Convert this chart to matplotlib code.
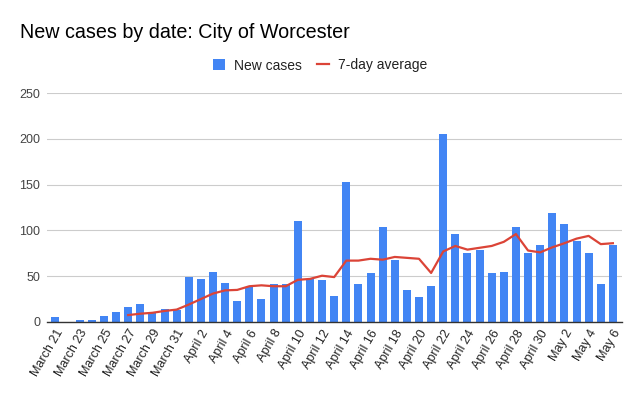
import numpy as np
import matplotlib
matplotlib.use('Agg')
import matplotlib.pyplot as plt

plt.rcParams['font.family'] = ['Liberation Sans', 'DejaVu Sans']

# dates (one bar per day)
dates = (['March %d' % d for d in range(21, 32)]
         + ['April %d' % d for d in range(1, 31)]
         + ['May %d' % d for d in range(1, 7)])

new_cases = [5, 0, 2, 2, 7, 11, 16, 20, 10, 14,
             13, 49, 47, 55, 43, 23, 38, 25, 41, 41,
             110, 47, 46, 28, 153, 41, 53, 104, 68, 35,
             27, 39, 205, 96, 75, 79, 54, 55, 104, 75,
             84, 119, 107, 88, 75, 41, 84]

avg7 = [np.nan] * 6 + [7.5, 9, 10, 12, 13.5, 19, 25, 31, 34.5, 35,
                       39, 40, 39, 39, 46, 47, 50.5, 49, 67, 67,
                       69, 68, 71, 70, 69, 53.5, 77, 83, 79, 81,
                       83, 87.5, 96, 78, 76, 81.5, 86, 91, 94, 85,
                       86]

y_ticks = [0, 50, 100, 150, 200, 250]

blue = '#4285F4'
red = '#DB4437'

fig = plt.figure(figsize=(6.41, 3.96), dpi=100)
ax = fig.add_axes([0.0733, 0.187, 0.897, 0.578])

x = np.arange(len(dates))
bars = ax.bar(x, new_cases, width=0.66, color=blue, label='New cases', zorder=2)
line, = ax.plot(x, avg7, color=red, lw=1.6, label='7-day average', zorder=3)

ax.set_xlim(-0.7, len(dates) - 0.25)
ax.set_ylim(0, 250)
ax.set_yticks(y_ticks)
ax.yaxis.grid(True, color='#cccccc', lw=0.8, zorder=0)
ax.tick_params(axis='y', length=0, labelsize=9, labelcolor='#444444', pad=5)

ax.set_xticks(x[::2])
ax.set_xticklabels(dates[::2], rotation=60, ha='right', va='top',
                   rotation_mode='anchor', fontsize=9, color='#222222')
ax.tick_params(axis='x', length=0, pad=4)

for s in ['top', 'right', 'left']:
    ax.spines[s].set_visible(False)
ax.spines['bottom'].set_color('#333333')
ax.spines['bottom'].set_linewidth(1)

fig.text(20 / 641, 1 - 38 / 396, 'New cases by date: City of Worcester',
         fontsize=14.2, va='baseline', ha='left', color='#000000')

leg = fig.legend([bars, line], ['New cases', '7-day average'],
                 loc='center', bbox_to_anchor=(0.5, 1 - 65.5 / 396), ncol=2,
                 frameon=False, fontsize=10, handlelength=0.8,
                 handleheight=0.8, columnspacing=1.1, handletextpad=0.7)
for t in leg.get_texts():
    t.set_color('#222222')

fig.savefig('out.png', dpi=100)
